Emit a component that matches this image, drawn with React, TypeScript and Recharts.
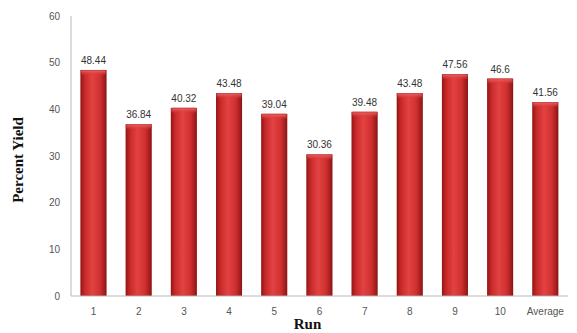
import { BarChart, Bar, XAxis, YAxis, LabelList, Label } from 'recharts'

const runs = ['1', '2', '3', '4', '5', '6', '7', '8', '9', '10', 'Average']
const yields = [48.44, 36.84, 40.32, 43.48, 39.04, 30.36, 39.48, 43.48, 47.56, 46.6, 41.56]
const yTicks = [0, 10, 20, 30, 40, 50, 60]

const data = runs.map((run, i) => ({ run, pct: yields[i] }))

const serif = '"Liberation Serif", "DejaVu Serif", serif'
const sans = '"Liberation Sans", "Open Sans", sans-serif'

// cylinder-ish bar: dark edges, light middle, bevelled top
function ShadedBar(props: any) {
  const { x, y, width, height } = props
  if (!height || height <= 0) return null
  const cap = Math.min(5, height)
  return (
    <g>
      <rect x={x} y={y} width={width} height={height} fill="url(#barBody)" />
      <rect x={x} y={y} width={width} height={cap} rx={2} fill="url(#barCap)" />
      <rect x={x + 0.5} y={y + 0.5} width={width - 1} height={height - 1} fill="none" stroke="#8a1414" strokeOpacity={0.35} />
    </g>
  )
}

function YTitle(props: any) {
  const { viewBox } = props
  const cx = 18
  const cy = viewBox.y + viewBox.height / 2 + 4
  return (
    <text
      x={cx}
      y={cy}
      transform={`rotate(-90 ${cx} ${cy})`}
      textAnchor="middle"
      dominantBaseline="central"
      fontFamily={serif}
      fontWeight="bold"
      fontSize={15}
      fill="#111"
    >
      Percent Yield
    </text>
  )
}

export default function App() {
  return (
    <div style={{ position: 'absolute', left: 0, top: 0, background: '#fff' }}>
      <BarChart
        width={577}
        height={333}
        data={data}
        margin={{ top: 16, right: 9, bottom: 0, left: 0 }}
        barCategoryGap="21%"
      >
        <defs>
          <linearGradient id="barBody" x1="0" y1="0" x2="1" y2="0">
            <stop offset="0%" stopColor="#9a1616" />
            <stop offset="18%" stopColor="#c92a2a" />
            <stop offset="45%" stopColor="#e34242" />
            <stop offset="75%" stopColor="#d03030" />
            <stop offset="100%" stopColor="#8e1515" />
          </linearGradient>
          <linearGradient id="barCap" x1="0" y1="0" x2="0" y2="1">
            <stop offset="0%" stopColor="#f07070" />
            <stop offset="100%" stopColor="#d83434" stopOpacity={0.3} />
          </linearGradient>
        </defs>
        <XAxis
          dataKey="run"
          height={37}
          tickLine={false}
          axisLine={{ stroke: '#b8b8b8' }}
          tick={{ fill: '#555', fontSize: 10, fontFamily: sans }}
          tickMargin={6}
          interval={0}
        >
          <Label
            value="Run"
            position="insideBottom"
            offset={4}
            dx={-12}
            style={{ fontFamily: serif, fontWeight: 'bold', fontSize: 15, fill: '#111' }}
          />
        </XAxis>
        <YAxis
          width={71}
          domain={[0, 60]}
          ticks={yTicks}
          tickLine={false}
          axisLine={{ stroke: '#b8b8b8' }}
          tick={{ fill: '#555', fontSize: 10, fontFamily: sans }}
          tickMargin={5}
        >
          <Label content={<YTitle />} />
        </YAxis>
        <Bar dataKey="pct" shape={<ShadedBar />} isAnimationActive={false}>
          <LabelList
            dataKey="pct"
            position="top"
            offset={6}
            style={{ fill: '#333', fontSize: 10, fontFamily: sans }}
          />
        </Bar>
      </BarChart>
    </div>
  )
}
